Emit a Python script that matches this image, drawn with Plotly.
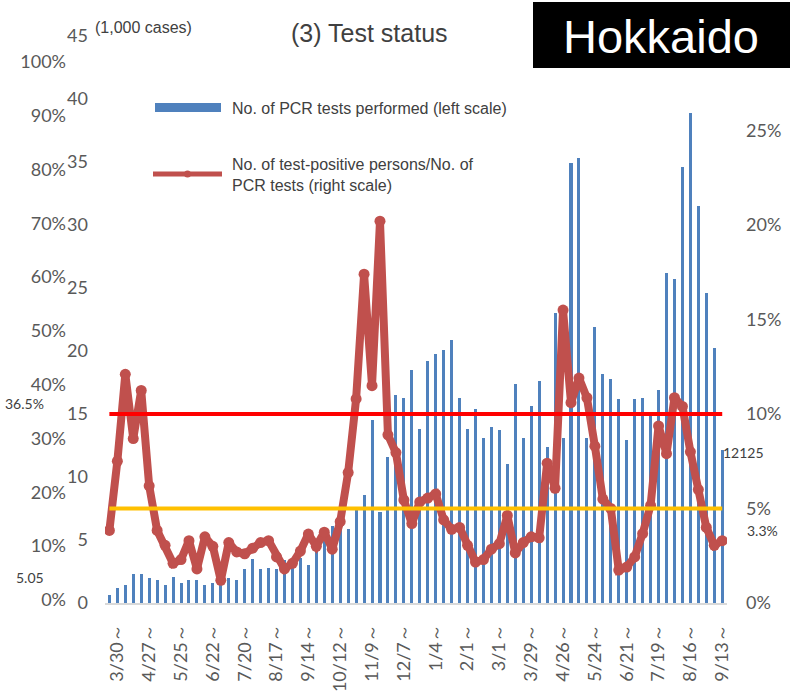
import plotly.graph_objects as go

# ---------------- data ----------------
# weekly PCR tests (1,000 cases), weeks from 3/23/2020 to 9/13/2021
pcr_tests = [0.6, 1.2, 1.4, 2.3, 2.3, 2.0, 1.8, 1.4, 2.1, 1.6,
             1.8, 1.8, 1.4, 1.6, 2.0, 2.0, 1.8, 2.7, 3.5, 2.7,
             2.8, 2.7, 3.4, 3.3, 3.6, 3.0, 4.8, 5.0, 6.1, 6.5,
             5.9, 7.4, 8.6, 14.5, 7.2, 11.6, 16.5, 16.3, 18.5, 13.8,
             19.2, 19.8, 20.1, 20.9, 16.3, 13.8, 15.4, 13.1, 14.0, 13.7,
             11.0, 17.4, 13.1, 15.6, 17.6, 12.4, 23.0, 13.1, 34.9, 35.3,
             13.1, 21.9, 18.2, 17.8, 16.2, 12.9, 16.2, 16.3, 14.9, 16.9,
             26.2, 25.7, 34.6, 38.9, 31.5, 24.6, 20.2, 12.125]

# positivity rate (%)
positivity = [3.84, 7.5, 12.1, 8.7, 11.25, 6.2, 3.84, 3.05, 2.1, 2.3,
              3.3, 1.8, 3.5, 3.0, 1.2, 3.2, 2.7, 2.6, 2.9, 3.2,
              3.3, 2.44, 1.8, 2.1, 2.75, 3.65, 3.0, 3.75, 2.85, 4.3,
              6.9, 10.8, 17.4, 11.5, 20.2, 8.9, 7.96, 5.45, 4.2, 5.35,
              5.55, 5.77, 4.4, 3.9, 4.0, 3.05, 2.17, 2.3, 2.85, 3.14,
              4.63, 2.65, 3.2, 3.5, 3.45, 7.4, 6.07, 15.5, 10.6, 11.9,
              10.86, 8.3, 5.5, 5.0, 1.74, 1.9, 2.44, 3.67, 5.16, 9.37,
              7.9, 10.86, 10.4, 8.0, 6.0, 4.0, 3.05, 3.3]

week_index = list(range(len(pcr_tests)))

tick_labels = ["3/30～", "4/27～", "5/25～", "6/22～", "7/20～", "8/17～", "9/14～",
               "10/12～", "11/9～", "12/7～", "1/4～", "2/1～", "3/1～", "3/29～",
               "4/26～", "5/24～", "6/21～", "7/19～", "8/16～", "9/13～"]
tick_positions = list(range(1, len(pcr_tests), 4))

threshold_red = 10.0     # %
threshold_yellow = 5.0   # %

left_ticks = [0, 5, 10, 15, 20, 25, 30, 35, 40, 45]
right_ticks = [0, 5, 10, 15, 20, 25]
right_tick_text = ["0%", "5%", "10%", "15%", "20%", "25%"]
outer_ticks = [0, 10, 20, 30, 40, 50, 60, 70, 80, 90, 100]
outer_tick_text = [f"{v}%" for v in outer_ticks]

# ---------------- figure ----------------
W, H = 792, 691
ML, MR, MT, MB = 0, 65, 36, 88
PW = W - ML - MR
PH = H - MT - MB
X0 = 105  # plot-area left pixel


def px(x):
    return (x - ML) / PW


def py(y):
    return (H - MB - y) / PH


AX_FONT = dict(family="Lato, Carlito, sans-serif", size=18, color="#595959")
TXT = "Liberation Sans, Arial, sans-serif"

fig = go.Figure()

fig.add_trace(go.Bar(
    x=week_index, y=pcr_tests, width=0.38,
    marker=dict(color="#4F81BD", line=dict(width=0)),
    yaxis="y", name="No. of PCR tests performed (left scale)",
))

fig.add_trace(go.Scatter(
    x=week_index, y=positivity, yaxis="y2", mode="lines+markers",
    line=dict(color="#C0504D", width=8),
    marker=dict(color="#C0504D", size=11),
    name="No. of test-positive persons/No. of PCR tests (right scale)",
))

for val, col in [(threshold_red, "#FF0000"), (threshold_yellow, "#FFC000")]:
    fig.add_trace(go.Scatter(
        x=[week_index[0], week_index[-1]], y=[val, val], yaxis="y2",
        mode="lines", line=dict(color=col, width=4), hoverinfo="skip",
    ))

# invisible trace so the outer percent axis is rendered
fig.add_trace(go.Scatter(x=[week_index[0]], y=[outer_ticks[0]], yaxis="y3",
                         mode="markers", marker=dict(opacity=0), hoverinfo="skip"))

fig.update_layout(
    width=W, height=H,
    margin=dict(l=ML, r=MR, t=MT, b=MB, autoexpand=False),
    paper_bgcolor="white", plot_bgcolor="white",
    showlegend=False,
    bargap=0,
    xaxis=dict(
        domain=[px(X0), 1], range=[-0.55, 77.6],
        tickmode="array", tickvals=tick_positions, ticktext=tick_labels,
        tickangle=-90, tickfont=dict(family="Lato, sans-serif", size=18, color="#595959"),
        showline=True, linecolor="#D9D9D9", linewidth=2,
        showgrid=False, zeroline=False, ticks="", ticklabelstandoff=12,
    ),
    yaxis=dict(
        range=[0, 45], tickmode="array", tickvals=left_ticks,
        tickfont=AX_FONT, showgrid=False, zeroline=False, showline=False,
        ticks="", ticklabelstandoff=16,
    ),
    yaxis2=dict(
        range=[0, 30], overlaying="y", side="right", anchor="x",
        tickmode="array", tickvals=right_ticks, ticktext=right_tick_text,
        tickfont=AX_FONT, showgrid=False, zeroline=False, showline=False,
        ticks="", ticklabelstandoff=18,
    ),
    yaxis3=dict(
        range=[-0.56, 104.8], overlaying="y", side="left", anchor="free",
        position=px(68),
        tickmode="array", tickvals=outer_ticks, ticktext=outer_tick_text,
        tickfont=AX_FONT, showgrid=False, zeroline=False, showline=False,
        ticks="", ticklabelstandoff=2,
    ),
)

shapes = [
    # Hokkaido box
    dict(type="rect", xref="paper", yref="paper", x0=px(533), x1=px(790),
         y0=py(68), y1=py(2), fillcolor="black", line=dict(width=0), layer="above"),
    # legend swatches
    dict(type="rect", xref="paper", yref="paper", x0=px(155), x1=px(221),
         y0=py(112), y1=py(103), fillcolor="#4F81BD", line=dict(width=0)),
    dict(type="line", xref="paper", yref="paper", x0=px(153), x1=px(222),
         y0=py(174), y1=py(174), line=dict(color="#C0504D", width=5)),
    dict(type="circle", xref="paper", yref="paper", x0=px(184), x1=px(191),
         y0=py(177.5), y1=py(170.5), fillcolor="#C0504D", line=dict(width=0)),
]
fig.update_layout(shapes=shapes)

ann = [
    dict(text="Hokkaido", x=px(661), y=py(36), font=dict(family=TXT, size=47, color="white"),
         xanchor="center", yanchor="middle"),
    dict(text="(3) Test status", x=px(370), y=py(33), font=dict(family=TXT, size=25, color="#404040"),
         xanchor="center", yanchor="middle"),
    dict(text="(1,000 cases)", x=px(93), y=py(27), font=dict(family=TXT, size=16, color="#404040"),
         xanchor="left", yanchor="middle"),
    dict(text="No. of PCR tests performed (left scale)", x=px(230), y=py(108),
         font=dict(family=TXT, size=16, color="#404040"), xanchor="left", yanchor="middle"),
    dict(text="No. of test-positive persons/No. of<br>PCR tests (right scale)", x=px(230), y=py(175),
         font=dict(family=TXT, size=16, color="#404040"), xanchor="left", yanchor="middle", align="left"),
    dict(text="36.5%", x=px(3), y=py(403), font=dict(family="Lato, sans-serif", size=14, color="#404040"),
         xanchor="left", yanchor="middle"),
    dict(text="5.05", x=px(14), y=py(577), font=dict(family="Lato, sans-serif", size=14, color="#404040"),
         xanchor="left", yanchor="middle"),
    dict(text="12125", x=px(721), y=py(452), font=dict(family="Lato, sans-serif", size=14, color="#404040"),
         xanchor="left", yanchor="middle"),
    dict(text="3.3%", x=px(745), y=py(530), font=dict(family="Lato, sans-serif", size=14, color="#404040"),
         xanchor="left", yanchor="middle"),
]
for a in ann:
    a.update(xref="paper", yref="paper", showarrow=False)
fig.update_layout(annotations=ann)

# remove default page margin so the figure sits at the window origin
fig.write_html("out.html", config={"displayModeBar": False},
               post_script="document.body.style.margin='0px';")
